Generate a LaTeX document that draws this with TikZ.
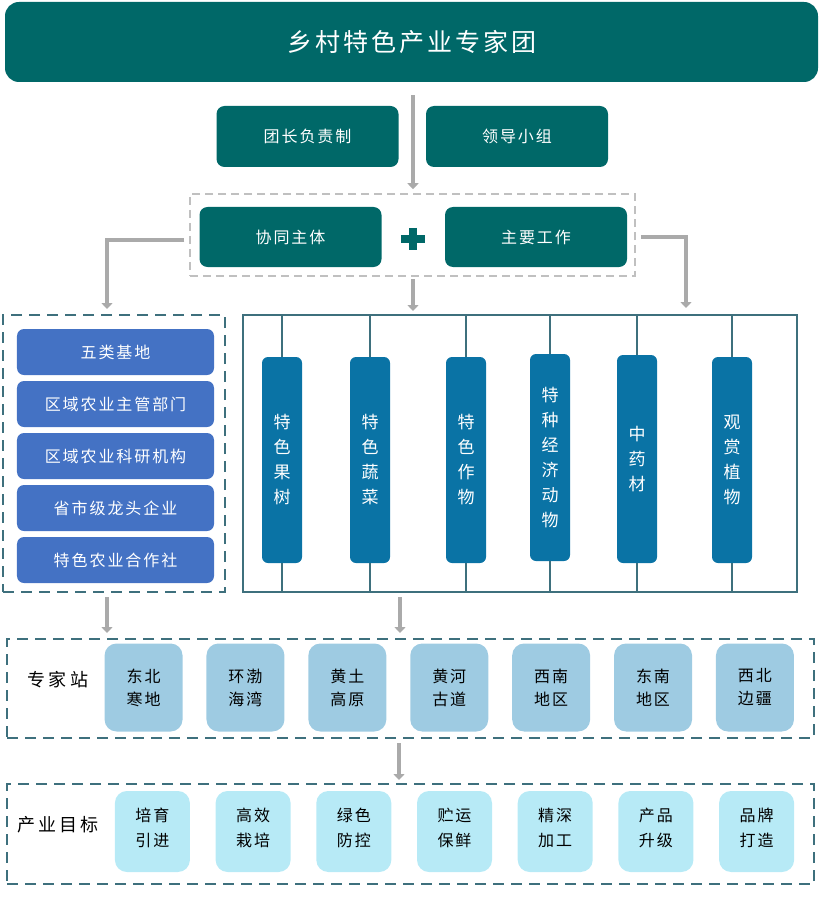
\documentclass[tikz,border=0pt]{standalone}
\usepackage{fontspec}
\setmainfont[LetterSpace=12]{Noto Sans CJK SC}
\usepackage{tikz}
\usetikzlibrary{matrix,
	calc,
	positioning,
	arrows.meta}
\definecolor{tealbox}{RGB}{0,104,104}
\definecolor{bluebox}{RGB}{68,114,196}
\definecolor{barblue}{RGB}{10,115,165}
\definecolor{lineteal}{RGB}{62,112,125}
\definecolor{stnblue}{RGB}{158,203,226}
\definecolor{goalblue}{RGB}{183,234,246}
\definecolor{arrgray}{RGB}{170,170,170}
\definecolor{dashgray}{RGB}{192,192,192}
\tikzstyle{hd}=[fill=tealbox, rounded corners=14pt, text=white, inner sep=0,
		minimum width=813pt, minimum height=80pt, font=\fontsize{25}{28}\selectfont]
\tikzstyle{tb}=[fill=tealbox, rounded corners=8pt, text=white, inner sep=0,
		minimum width=182pt, minimum height=61pt, font=\fontsize{16}{19}\selectfont]
\tikzstyle{bb}=[fill=bluebox, rounded corners=7pt, text=white, inner sep=0,
		minimum width=197pt, minimum height=46pt, font=\fontsize{16}{19}\selectfont]
\tikzstyle{vb}=[fill=barblue, rounded corners=6pt, text=white, inner sep=0,
		minimum width=40pt, minimum height=206pt, text width=20pt, align=center,
		font=\fontsize{17}{25}\selectfont]
\tikzstyle{sb}=[fill=stnblue, rounded corners=12pt, inner sep=0,
		minimum width=78pt, minimum height=88pt, align=center,
		font=\fontsize{16}{23}\selectfont]
\tikzstyle{gb}=[fill=goalblue, rounded corners=12pt, inner sep=0,
		minimum width=75pt, minimum height=81pt, align=center,
		font=\fontsize{16}{25}\selectfont]
\tikzstyle{tl}=[font=\fontsize{18}{22}\selectfont\addfontfeature{LetterSpace=18}]
\tikzstyle{gd}=[draw=dashgray, line width=1.5pt, dash pattern=on 8pt off 5pt, inner sep=0]
\tikzstyle{td}=[draw=lineteal, line width=2pt, dash pattern=on 11pt off 7pt, inner sep=0]
\tikzstyle{ln}=[draw=lineteal, line width=2pt]
\tikzstyle{arr}=[draw=arrgray, line width=4.5pt, -{Triangle[width=11pt,length=6pt]}]

\begin{document}
\begin{tikzpicture}[x=1pt, y=-1pt]
                \useasboundingbox (0,0) rectangle (822,917);
                \node[hd] (head) at (411.5,42) {乡村特色产业专家团};
                \node[tb] (lead) at (307.5,136.5) {团长负责制};
                \node[tb] (team) at (517,136.5) {领导小组};
                \node[gd, minimum width=445pt, minimum height=82pt] (dbox) at (412.5,235) {};
                \node[tb, minimum height=60pt] (coop) at (290.5,237) {协同主体};
                \node[tb, minimum height=60pt] (work) at (536,237) {主要工作};
                \node[minimum size=24pt, inner sep=0] (plus) at (413,239) {};
                \draw[tealbox, line width=8pt] (plus.west) -- (plus.east);
                \draw[tealbox, line width=8pt] ([yshift=-1pt]plus.north) -- ([yshift=1pt]plus.south);

                \node[td, minimum width=222pt, minimum height=277pt] (lcol) at (114,453.5) {};
                \matrix (list) [row sep=6pt, ampersand replacement=\&] at (115.5,456) {
                    \node[bb] (l1) {五类基地}; \\
                    \node[bb] (l2) {区域农业主管部门}; \\
                    \node[bb] (l3) {区域农业科研机构}; \\
                    \node[bb] (l4) {省市级龙头企业}; \\
                    \node[bb] (l5) {特色农业合作社}; \\
                };

                \node[ln, inner sep=0, minimum width=554pt, minimum height=277pt] (frame) at (520,453.5) {};
                \node[vb] (b1) at (282,460) {特\\色\\果\\树};
                \node[vb] (b2) at (370,460) {特\\色\\蔬\\菜};
                \node[vb] (b3) at (466,460) {特\\色\\作\\物};
                \node[vb, minimum height=207pt] (b4) at (550,457.5) {特\\种\\经\\济\\动\\物};
                \node[vb, minimum height=208pt] (b5) at (637,459) {中\\药\\材};
                \node[vb] (b6) at (732,460) {观\\赏\\植\\物};
                \draw[ln] (b1.north) -- (b1.north |- frame.north);
                \draw[ln] (b2.north) -- (b2.north |- frame.north);
                \draw[ln] (b3.north) -- (b3.north |- frame.north);
                \draw[ln] (b4.north) -- (b4.north |- frame.north);
                \draw[ln] (b5.north) -- (b5.north |- frame.north);
                \draw[ln] (b6.north) -- (b6.north |- frame.north);
                \draw[ln] (b1.south) -- (b1.south |- frame.south);
                \draw[ln] (b2.south) -- (b2.south |- frame.south);
                \draw[ln] (b3.south) -- (b3.south |- frame.south);
                \draw[ln] (b4.south) -- (b4.south |- frame.south);
                \draw[ln] (b5.south) -- (b5.south |- frame.south);
                \draw[ln] (b6.south) -- (b6.south |- frame.south);

                \node[td, minimum width=807pt, minimum height=99pt] (stn) at (410.5,688.5) {};
                \node[tl] (stnlab) at (58,680) {专家站};
                \matrix (area) [column sep=23.9pt, ampersand replacement=\&] at (449.25,687.5) {
                    \node[sb] (s1) {东北\\寒地}; \& \node[sb] (s2) {环渤\\海湾}; \& \node[sb] (s3) {黄土\\高原}; \&
                    \node[sb] (s4) {黄河\\古道}; \& \node[sb] (s5) {西南\\地区}; \& \node[sb] (s6) {东南\\地区}; \&
                    \node[sb] (s7) {西北\\边疆}; \\
                };

                \node[td, minimum width=807pt, minimum height=100pt] (goal) at (410.5,834) {};
                \node[tl] (goallab) at (58,825) {产业目标};
                \matrix (aim) [column sep=25.7pt, ampersand replacement=\&] at (454.5,831.5) {
                    \node[gb, text depth=8pt] (g1) {培育\\引进}; \& \node[gb, text depth=8pt] (g2) {高效\\栽培}; \& \node[gb, text depth=8pt] (g3) {绿色\\防控}; \&
                    \node[gb, text depth=8pt] (g4) {贮运\\保鲜}; \& \node[gb, text depth=8pt] (g5) {精深\\加工}; \& \node[gb, text depth=8pt] (g6) {产品\\升级}; \&
                    \node[gb, text depth=8pt] (g7) {品牌\\打造}; \\
                };

                \draw[arr, shorten <=13pt, shorten >=4pt] (head.south -| plus) -- (dbox.north -| plus);
                \draw[arr, shorten <=2pt, shorten >=3pt] (dbox.south -| plus) -- (frame.north -| plus);
                \draw[arr, shorten <=5pt, shorten >=5pt] ([yshift=-5pt]dbox.west) -| ([xshift=-7pt]lcol.north);
                \draw[arr, shorten <=5pt, shorten >=6pt] ([yshift=-2pt]dbox.east) -| ([xshift=166pt]frame.north);
                \draw[arr, shorten <=4pt, shorten >=5pt] ([xshift=-7pt]lcol.south) -- ([xshift=-7pt]lcol.south |- stn.north);
                \draw[arr, shorten <=4pt, shorten >=5pt] ([xshift=-120pt]frame.south) -- ([xshift=-120pt]frame.south |- stn.north);
                \draw[arr, shorten <=4pt, shorten >=3pt] ([xshift=-11.5pt]stn.south) -- ([xshift=-11.5pt]stn.south |- goal.north);
            \end{tikzpicture}
\end{document}
